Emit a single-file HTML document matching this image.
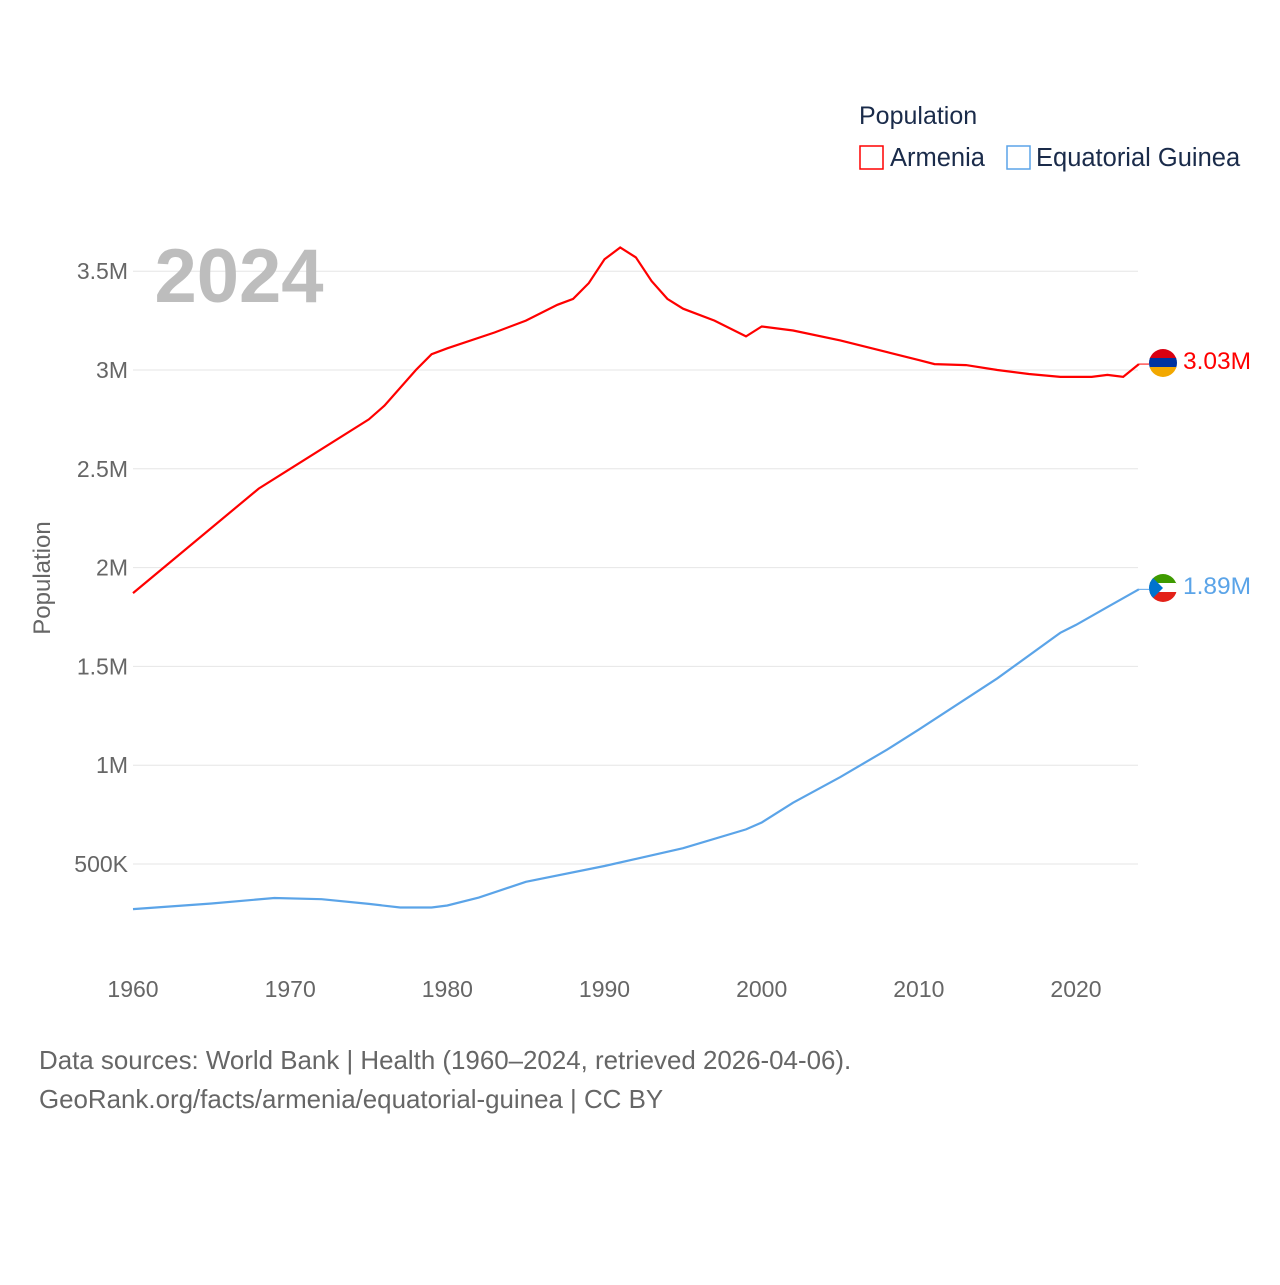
<!DOCTYPE html>
<html><head><meta charset="utf-8"><style>
body{margin:0;background:#fff;font-family:"Liberation Sans",sans-serif}
svg text{font-family:"Liberation Sans",sans-serif}
</style></head><body>
<svg width="1280" height="1280" xmlns="http://www.w3.org/2000/svg">
<defs>
<clipPath id="c1"><circle cx="1163" cy="363" r="14"/></clipPath>
<clipPath id="c2"><circle cx="1163" cy="588" r="14"/></clipPath>
</defs>
<g id="grid"></g>
<g id="xt"></g>
<text x="239" y="302" font-size="76" font-weight="bold" fill="#bdbdbd" text-anchor="middle">2024</text>
<text transform="translate(50,578) rotate(-90)" font-size="24" fill="#666" text-anchor="middle">Population</text>
<g id="lines"></g>
<text x="859" y="124" font-size="25" fill="#1a2b4a">Population</text>
<g><rect x="860" y="146" width="23" height="23" fill="none" stroke="#ff0000" stroke-width="1.5"/><text x="890" y="166" font-size="25.5" fill="#1a2b4a">Armenia</text></g>
<g><rect x="1007" y="146" width="23" height="23" fill="none" stroke="#5ba4e8" stroke-width="1.5"/><text x="1036" y="166" font-size="25.5" fill="#1a2b4a">Equatorial Guinea</text></g>
<g clip-path="url(#c1)"><rect x="1149" y="349" width="28" height="10" fill="#d90012"/><rect x="1149" y="358" width="28" height="10" fill="#0033a0"/><rect x="1149" y="367" width="28" height="10" fill="#f2a800"/></g>
<g clip-path="url(#c2)"><rect x="1149" y="574" width="28" height="10" fill="#3e9a00"/><rect x="1149" y="583" width="28" height="10" fill="#fff"/><rect x="1149" y="592" width="28" height="10" fill="#e32118"/><polygon points="1149,574 1163,588 1149,602" fill="#0073ce"/></g>
<text x="1183" y="369" font-size="24.5" fill="#ff0000">3.03M</text>
<text x="1183" y="594" font-size="24.5" fill="#5ba4e8">1.89M</text>
<text x="39" y="1069" font-size="25.9" fill="#666">Data sources: World Bank | Health (1960–2024, retrieved 2026-04-06).</text>
<text x="39" y="1108" font-size="25.9" fill="#666">GeoRank.org/facts/armenia/equatorial-guinea | CC BY</text>
</svg>
<script>
const yTicks=[500000,1000000,1500000,2000000,2500000,3000000,3500000];
const yTickLabels=["500K","1M","1.5M","2M","2.5M","3M","3.5M"];
const xTicks=[1960,1970,1980,1990,2000,2010,2020];
const armYears=[1960,1968,1970,1975,1976,1978,1979,1980,1983,1985,1987,1988,1989,1990,1991,1992,1993,1994,1995,1997,1999,2000,2002,2005,2008,2010,2011,2013,2015,2017,2019,2021,2022,2023,2024];
const armenia=[1.871,2.40,2.50,2.75,2.82,3.00,3.08,3.11,3.19,3.25,3.33,3.36,3.44,3.56,3.62,3.57,3.45,3.36,3.31,3.25,3.17,3.22,3.20,3.15,3.09,3.05,3.03,3.025,3.00,2.98,2.965,2.965,2.975,2.965,3.03];
const eqYears=[1960,1965,1969,1972,1975,1977,1979,1980,1982,1985,1990,1995,1999,2000,2002,2005,2008,2010,2015,2019,2020,2022,2024];
const eqGuinea=[0.272,0.300,0.328,0.322,0.298,0.280,0.280,0.290,0.330,0.41,0.49,0.58,0.675,0.71,0.81,0.94,1.08,1.18,1.44,1.67,1.71,1.80,1.89];
const NS="http://www.w3.org/2000/svg";
const X=y=>133+(y-1960)*(1076-133)/60;
const Y=v=>962.8-v*(98.8/500000);
const grid=document.getElementById('grid');
yTicks.forEach((t,i)=>{
 const l=document.createElementNS(NS,'line');
 l.setAttribute('x1',133);l.setAttribute('x2',1138);l.setAttribute('y1',Y(t));l.setAttribute('y2',Y(t));
 l.setAttribute('stroke','#e6e6e6');l.setAttribute('stroke-width','1');
 
 
 grid.appendChild(l);
 const tx=document.createElementNS(NS,'text');
 tx.setAttribute('x',128);tx.setAttribute('y',Y(t)+8);tx.setAttribute('text-anchor','end');
 tx.setAttribute('font-size','23');tx.setAttribute('fill','#666');tx.textContent=yTickLabels[i];
 
 
 grid.appendChild(tx);
});
const xt=document.getElementById('xt');
xTicks.forEach(t=>{
 const tx=document.createElementNS(NS,'text');
 tx.setAttribute('x',X(t));tx.setAttribute('y',997);tx.setAttribute('text-anchor','middle');
 tx.setAttribute('font-size','23');tx.setAttribute('fill','#666');tx.textContent=t;
 
 
 xt.appendChild(tx);
});
const lines=document.getElementById('lines');
function draw(ys,vs,color,name){
 const p=document.createElementNS(NS,'path');
 p.setAttribute('d',ys.map((y,i)=>(i?'L':'M')+X(y).toFixed(1)+','+Y(vs[i]*1e6).toFixed(1)).join(' '));
 p.setAttribute('fill','none');p.setAttribute('stroke',color);p.setAttribute('stroke-width','2.2');
 
 
 lines.appendChild(p);
 const lastY=Y(vs[vs.length-1]*1e6);
 const c=document.createElementNS(NS,'line');
 c.setAttribute('x1',X(ys[ys.length-1]));c.setAttribute('x2',1149);c.setAttribute('y1',lastY);c.setAttribute('y2',lastY);
 c.setAttribute('stroke',color);c.setAttribute('stroke-width','1');
 
 
 lines.appendChild(c);
}
draw(armYears,armenia,'#ff0000','armenia-line');
draw(eqYears,eqGuinea,'#5ba4e8','equatorial-guinea-line');
</script>
</body></html>
